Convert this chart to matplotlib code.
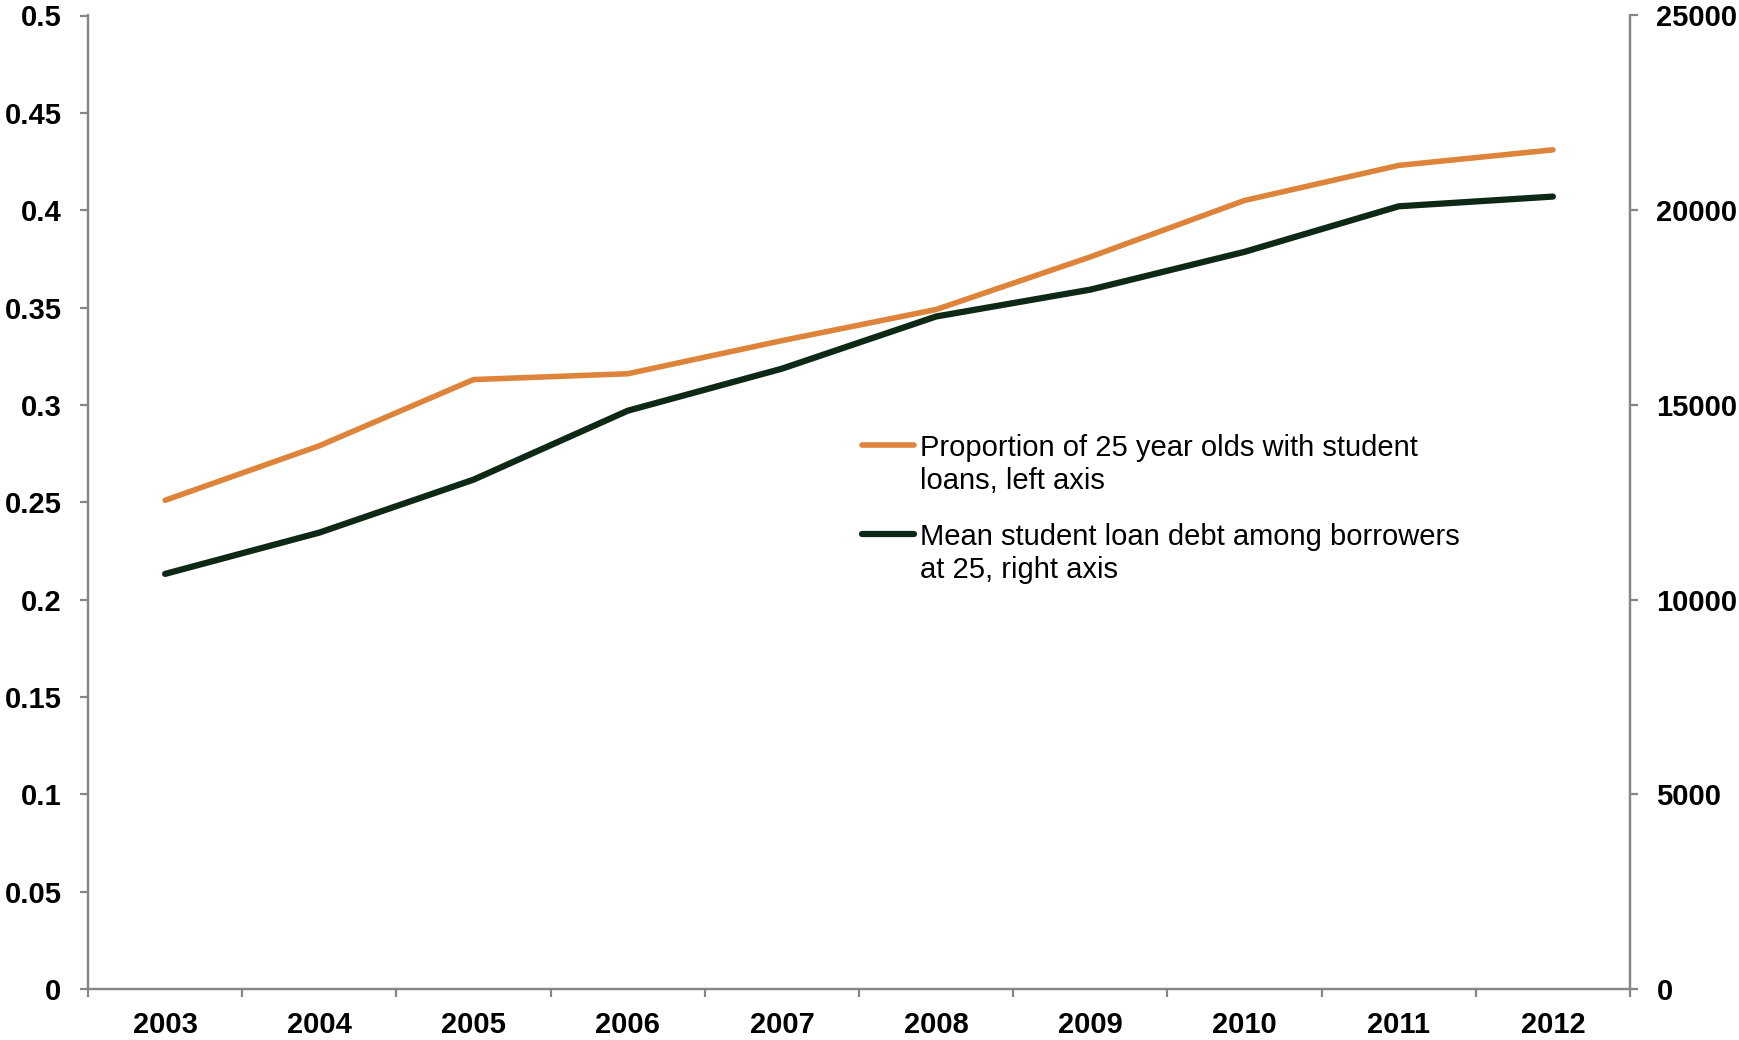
import matplotlib
matplotlib.use("Agg")
import matplotlib.pyplot as plt
from matplotlib.lines import Line2D

years = ["2003", "2004", "2005", "2006", "2007", "2008", "2009", "2010", "2011", "2012"]
proportion = [0.251, 0.279, 0.313, 0.316, 0.333, 0.349, 0.376, 0.405, 0.423, 0.431]
mean_debt = [10660, 11720, 13080, 14850, 15930, 17270, 17960, 18930, 20100, 20350]

label_prop = "Proportion of 25 year olds with student\nloans, left axis"
label_debt = "Mean student loan debt among borrowers\nat 25, right axis"

left_ticks = [0, 0.05, 0.1, 0.15, 0.2, 0.25, 0.3, 0.35, 0.4, 0.45, 0.5]
right_ticks = [0, 5000, 10000, 15000, 20000, 25000]

ORANGE = "#DE833A"
GREEN = "#0D2916"
AXIS = "#868686"

plt.rcParams['font.family'] = ['Liberation Sans', 'DejaVu Sans']

TOP, BOT = 15.5, 989
fig = plt.figure(figsize=(17.4, 10.4), dpi=100)
ax = fig.add_axes([88/1740, 1-BOT/1040, (1630-88)/1740, (BOT-TOP)/1040])
ax2 = ax.twinx()

x = list(range(len(years)))
ax.plot(x, proportion, color=ORANGE, lw=4.0, solid_capstyle='round', zorder=3)
ax2.plot(x, mean_debt, color=GREEN, lw=4.5, solid_capstyle='round', zorder=3)

ax.set_xlim(-0.5, len(years) - 0.5)
ax.set_ylim(0, 0.5)
ax2.set_ylim(0, 25000)

ax.set_yticks(left_ticks)
ax.set_yticklabels(['{:g}'.format(v) for v in left_ticks])
ax2.set_yticks(right_ticks)
ax2.set_yticklabels([str(v) for v in right_ticks])

ax.set_xticks(x)
ax.set_xticklabels(years)
ax.set_xticks([i - 0.5 for i in range(len(years) + 1)], minor=True)

for a in (ax, ax2):
    a.spines['top'].set_visible(False)
    for s in ('left', 'right', 'bottom'):
        a.spines[s].set_color(AXIS)
        a.spines[s].set_linewidth(1.6)

FS = 21
ax.tick_params(axis='x', which='major', length=0, pad=16, labelsize=FS)
ax.tick_params(axis='x', which='minor', length=6, width=1.6, color=AXIS, direction='out')
ax.tick_params(axis='y', which='major', length=6, width=1.6, color=AXIS, direction='out',
               pad=13, labelsize=FS)
ax2.tick_params(axis='y', which='major', length=6, width=1.6, color=AXIS, direction='out',
                pad=13, labelsize=FS)
for lab in ax.get_xticklabels() + ax.get_yticklabels() + ax2.get_yticklabels():
    lab.set_fontweight('bold')

# legend drawn manually (handle aligned with first text line)
entries = [(label_prop, ORANGE, 4.0, 445), (label_debt, GREEN, 4.5, 534)]
for text, col, lw, ypx in entries:
    yf = 1 - ypx / 1040
    fig.add_artist(Line2D([862/1740, 914/1740], [yf, yf], color=col, lw=lw,
                          solid_capstyle='round', transform=fig.transFigure))
    fig.text(920/1740, 1 - (ypx - 11) / 1040, text, fontsize=FS, va='top', ha='left',
             linespacing=1.22, transform=fig.transFigure)

fig.savefig("out.png", dpi=100)
